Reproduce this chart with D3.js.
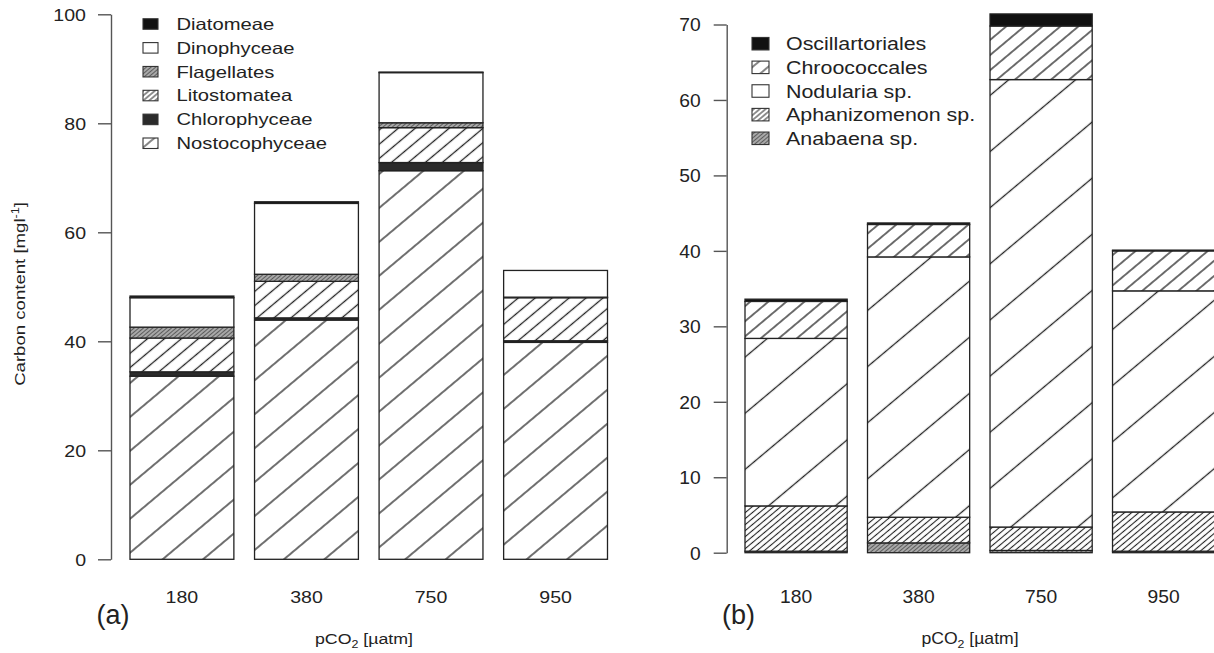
<!DOCTYPE html>
<html><head><meta charset="utf-8">
<script src="https://cdn.jsdelivr.net/npm/d3@7"></script>
<style>
body{margin:0;background:#fff}
svg{display:block}
text{font-family:"Liberation Sans",Arial,Helvetica,sans-serif;fill:#222}
</style></head>
<body><svg id="c" width="1214" height="653"></svg>
<script>
// ---------- data ----------
const categories = ["180", "380", "750", "950"];

// Panel (a) – stacked bottom to top
const seriesA = ["Nostocophyceae", "Chlorophyceae", "Litostomatea", "Flagellates", "Dinophyceae", "Diatomeae"];
const nostocophyceae = [33.6, 43.9, 71.3, 39.8];
const chlorophyceae  = [0.8, 0.4, 1.5, 0.3];
const litostomatea   = [6.2, 6.7, 6.4, 7.9];
const flagellates    = [2.0, 1.3, 0.9, 0.1];
const dinophyceae    = [5.4, 13.0, 9.2, 4.9];
const diatomeae      = [0.3, 0.3, 0.1, 0.0];
const ticksA = [0, 20, 40, 60, 80, 100];

// Panel (b) – stacked bottom to top
const seriesB = ["Anabaena sp.", "Aphanizomenon sp.", "Nodularia sp.", "Chroococcales", "Oscillartoriales"];
const anabaena      = [0.2, 1.3, 0.3, 0.2];
const aphanizomenon = [6.0, 3.4, 3.1, 5.2];
const nodularia     = [22.2, 34.5, 59.3, 29.3];
const chroococcales = [4.9, 4.3, 7.1, 5.3];
const oscillatoriales = [0.3, 0.2, 1.6, 0.1];
const ticksB = [0, 10, 20, 30, 40, 50, 60, 70];

const xTitle = "pCO";
const yTitleA = "Carbon content [mgl";

// ---------- styles ----------
const svg = d3.select("#c");
const defs = svg.append("defs");
function hatch(id, d, sw, col) {
  const p = defs.append("pattern").attr("id", id).attr("patternUnits", "userSpaceOnUse")
    .attr("width", d).attr("height", d).attr("patternTransform", "rotate(50)");
  p.append("rect").attr("width", d).attr("height", d).attr("fill", "#fff");
  p.append("line").attr("x1", d / 2).attr("x2", d / 2).attr("y1", -1).attr("y2", d + 1)
    .attr("stroke", col).attr("stroke-width", sw);
}
hatch("sparseA", 26, 1.3, "#222");
hatch("denseA", 10.9, 1.3, "#222");
hatch("sparseB", 43, 1.3, "#222");
hatch("denseB", 11.6, 1.3, "#222");
hatch("vdenseB", 4.6, 1.1, "#222");
hatch("legSparse", 10, 1.1, "#222");
hatch("legDense", 3.8, 1.0, "#222");
(function () {
  const p = defs.append("pattern").attr("id", "grey").attr("patternUnits", "userSpaceOnUse")
    .attr("width", 3).attr("height", 3).attr("patternTransform", "rotate(50)");
  p.append("rect").attr("width", 3).attr("height", 3).attr("fill", "#a8a8a8");
  p.append("line").attr("x1", 1.5).attr("x2", 1.5).attr("y1", 0).attr("y2", 3)
    .attr("stroke", "#555").attr("stroke-width", 0.9);
})();

const fillOf = k => ({black: "#111", dark: "#2b2b2b", white: "#fff"}[k] || `url(#${k})`);

const barFillA = {Nostocophyceae: "sparseA", Chlorophyceae: "dark", Litostomatea: "denseA",
  Flagellates: "grey", Dinophyceae: "white", Diatomeae: "black"};
const legFillA = {Nostocophyceae: "legSparse", Chlorophyceae: "dark", Litostomatea: "legDense",
  Flagellates: "grey", Dinophyceae: "white", Diatomeae: "black"};
const barFillB = {"Anabaena sp.": "grey", "Aphanizomenon sp.": "vdenseB", "Nodularia sp.": "sparseB",
  "Chroococcales": "denseB", "Oscillartoriales": "black"};
const legFillB = {"Anabaena sp.": "grey", "Aphanizomenon sp.": "legDense", "Nodularia sp.": "white",
  "Chroococcales": "legSparse", "Oscillartoriales": "black"};

function stext(g, str, x, y, size, sx, anchor) {
  return g.append("text").attr("transform", `translate(${x},${y}) scale(${sx},1)`)
    .attr("text-anchor", anchor || "start").attr("font-size", size).text(str);
}

function panel(cfg) {
  const g = svg.append("g");
  const table = categories.map((c, i) => {
    const o = {cat: c};
    cfg.series.forEach((s, j) => o[s] = cfg.values[j][i]);
    return o;
  });
  const stacked = d3.stack().keys(cfg.series)(table);
  const x = d3.scaleBand().domain(categories).range(cfg.xRange).paddingInner(0.166).paddingOuter(0);
  const y = d3.scaleLinear().domain(cfg.yDomain).range(cfg.yRange);

  // bars
  stacked.forEach(layer => {
    g.append("g").selectAll("rect").data(layer).join("rect")
      .attr("x", d => x(d.data.cat)).attr("width", x.bandwidth())
      .attr("y", d => y(d[1])).attr("height", d => Math.max(0, y(d[0]) - y(d[1])))
      .attr("fill", fillOf(cfg.barFill[layer.key]))
      .attr("stroke", "#222").attr("stroke-width", 1.3);
  });

  // y axis
  const ax = g.append("g").attr("transform", `translate(${cfg.axisX},0)`)
    .call(d3.axisLeft(y).tickValues(cfg.ticks).tickSize(13).tickSizeOuter(0));
  ax.select(".domain").attr("stroke", "#555").attr("stroke-width", 1.4);
  ax.selectAll(".tick line").attr("stroke", "#555").attr("stroke-width", 1.4);
  ax.selectAll(".tick text").attr("font-family", null).attr("font-size", cfg.fs)
    .attr("fill", "#222").attr("x", -cfg.labGap / cfg.sx).attr("dy", "0.36em")
    .attr("transform", `scale(${cfg.sx},1)`);

  // category labels
  categories.forEach(c => stext(g, c, x(c) + x.bandwidth() / 2, cfg.catY, cfg.fs, cfg.sx, "middle"));

  // x title with subscript
  const xt = stext(g, "", cfg.xTitleX, cfg.xTitleY, cfg.fs - 1.5, cfg.sx, "middle");
  xt.append("tspan").text(xTitle);
  xt.append("tspan").attr("font-size", (cfg.fs - 1.5) * 0.7).attr("dy", 4).text("2");
  xt.append("tspan").attr("dy", -4).text(" [µatm]");

  // panel letter
  g.append("text").attr("x", cfg.letterX).attr("y", 624).attr("text-anchor", "middle")
    .attr("font-family", "'Open Sans', sans-serif").attr("font-size", 27).attr("fill", "#111")
    .text(cfg.letter);

  // legend
  const legKeys = cfg.series.slice().reverse();
  legKeys.forEach((k, i) => {
    const cy = cfg.leg.y0 + i * cfg.leg.step;
    g.append("rect").attr("x", cfg.leg.x).attr("y", cy - cfg.leg.h / 2)
      .attr("width", cfg.leg.w).attr("height", cfg.leg.h)
      .attr("fill", fillOf(cfg.legFill[k])).attr("stroke", "#333").attr("stroke-width", 1.1);
    stext(g, k, cfg.leg.tx, cy + cfg.leg.fs * 0.36, cfg.leg.fs, cfg.leg.sx, "start");
  });
  return g;
}

panel({
  series: seriesA,
  values: [nostocophyceae, chlorophyceae, litostomatea, flagellates, dinophyceae, diatomeae],
  barFill: barFillA, legFill: legFillA,
  xRange: [130, 607.5], yDomain: [0, 100], yRange: [559.3, 14.3], ticks: ticksA,
  axisX: 111, labGap: 25, fs: 16.3, sx: 1.2, catY: 603,
  xTitleX: 364, xTitleY: 644, letter: "(a)", letterX: 113,
  leg: {x: 143, w: 15, h: 10.5, y0: 24, step: 23.85, tx: 176.5, fs: 16.3, sx: 1.24}
});

panel({
  series: seriesB,
  values: [anabaena, aphanizomenon, nodularia, chroococcales, oscillatoriales],
  barFill: barFillB, legFill: legFillB,
  xRange: [745, 1214.7], yDomain: [0, 70], yRange: [552.7, 24.5], ticks: ticksB,
  axisX: 726.7, labGap: 26, fs: 17.5, sx: 1.1, catY: 603,
  xTitleX: 970, xTitleY: 644, letter: "(b)", letterX: 738.5,
  leg: {x: 752, w: 17, h: 12.5, y0: 43.7, step: 23.65, tx: 786, fs: 18.3, sx: 1.17}
});

// y title for panel (a)
const yt = svg.append("text").attr("transform", "translate(25,294) rotate(-90) scale(1.2,1)")
  .attr("text-anchor", "middle").attr("font-size", 15.5);
yt.append("tspan").text(yTitleA);
yt.append("tspan").attr("font-size", 10.5).attr("dy", -6).text("-1");
yt.append("tspan").attr("dy", 6).text("]");
</script></body></html>
